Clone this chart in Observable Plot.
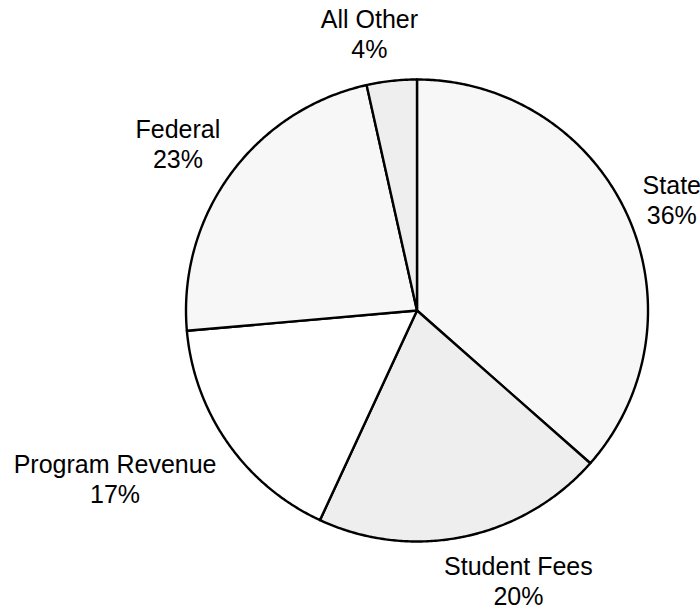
<!DOCTYPE html>
<html>
<head>
<meta charset="utf-8">
<script src="https://cdn.jsdelivr.net/npm/d3@7"></script>
<script src="https://cdn.jsdelivr.net/npm/@observablehq/plot@0.6"></script>
<style>
  html, body { margin: 0; padding: 0; background: #ffffff; }
  #chart svg { display: block; }
</style>
</head>
<body>
<div id="chart"></div>
<script>
// ---- Data ----
const categories = ["State", "Student Fees", "Program Revenue", "Federal", "All Other"];
const shares = [36.5, 20.4, 16.7, 22.9, 3.5];           // estimated slice sizes (%)
const percentLabels = ["36%", "20%", "17%", "23%", "4%"]; // labels as printed

// ---- Layout / style (not data) ----
const W = 700, H = 609;
const cx = 416.5, cy = 310, R = 231;
const fills = ["#f7f7f7", "#eeeeee", "#ffffff", "#f7f7f7", "#eeeeee"];
// label block centres, in pie-radius units relative to the centre
const labelPos = [[1.103, 0.483], [0.439, -1.168], [-1.307, -0.727], [-1.035, 0.725], [-0.206, 1.199]];

const total = d3.sum(shares);
let acc = 0;
const slices = categories.map((c, i) => {
  const a0 = acc / total * 2 * Math.PI;
  acc += shares[i];
  const a1 = acc / total * 2 * Math.PI;
  const pts = [{x: 0, y: 0}];
  const n = Math.max(2, Math.ceil((a1 - a0) / (Math.PI / 360)));
  for (let k = 0; k <= n; k++) {
    const a = a0 + (a1 - a0) * k / n;
    pts.push({x: Math.sin(a), y: Math.cos(a)});
  }
  pts.push({x: 0, y: 0});
  return {name: c, pts, fill: fills[i]};
});

const labels = categories.map((c, i) => ({
  x: labelPos[i][0], y: labelPos[i][1], text: c + "\n" + percentLabels[i]
}));

const chart = Plot.plot({
  width: W,
  height: H,
  margin: 0,
  x: {domain: [(0 - cx) / R, (W - cx) / R], range: [0, W], axis: null},
  y: {domain: [(cy - H) / R, cy / R], range: [H, 0], axis: null},
  style: {background: "#ffffff", fontFamily: "Arial, 'Liberation Sans', sans-serif"},
  marks: [
    ...slices.map(s => Plot.line(s.pts, {
      x: "x", y: "y", fill: s.fill, stroke: "#000000", strokeWidth: 2.4,
      strokeLinejoin: "round", curve: "linear"
    })),
    Plot.text(labels, {
      x: "x", y: "y", text: "text", fontSize: 25, lineHeight: 1.2,
      lineAnchor: "middle", textAnchor: "middle", fill: "#000000",
      fontFamily: "Arial, 'Liberation Sans', sans-serif"
    })
  ]
});
document.getElementById("chart").appendChild(chart);
</script>
</body>
</html>
